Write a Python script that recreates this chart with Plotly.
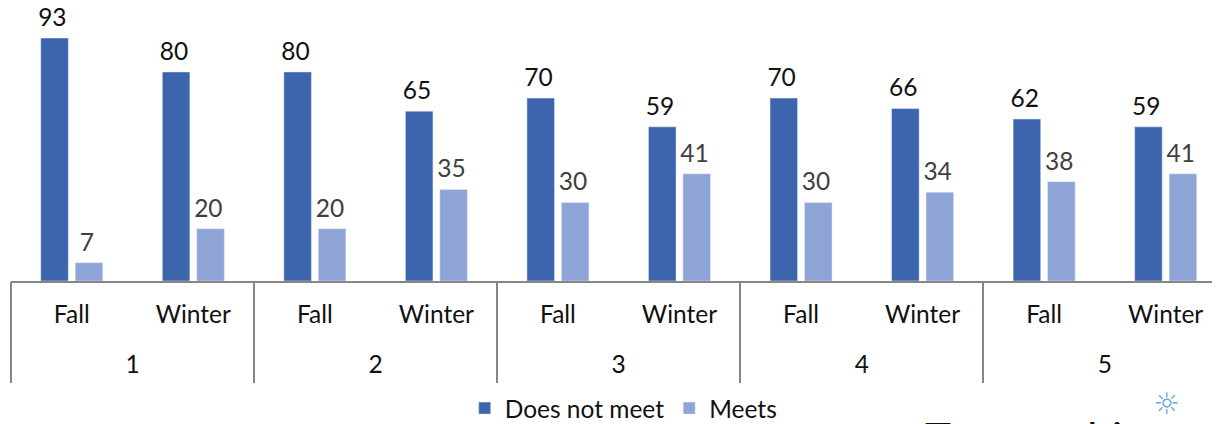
import plotly.graph_objects as go

group_names = ["1", "2", "3", "4", "5"]
group_positions = [0.5, 2.5, 4.5, 6.5, 8.5]
divider_positions = [-0.5, 1.5, 3.5, 5.5, 7.5, 9.5]
bar_positions = [0, 1, 2, 3, 4, 5, 6, 7, 8, 9]
terms = ["Fall", "Winter"] * 5
does_not_meet = [93, 80, 80, 65, 70, 59, 70, 66, 62, 59]
meets = [7, 20, 20, 35, 30, 41, 30, 34, 38, 41]
cut_off_text = "Try out this"
bulb = "\u263c"

FONT = "Lato"
SIZE = 24.5
X_RANGE = [-0.5, 9.447]
LABEL = "%{y}<sub>\u00a0</sub>"

fig = go.Figure()
fig.add_bar(name="Does not meet", x=bar_positions, y=does_not_meet,
            marker=dict(color="#3d65ad"), texttemplate=LABEL, textposition="outside", constraintext="none",
            textfont=dict(color="#111111", size=SIZE, family=FONT), cliponaxis=False)
fig.add_bar(name="Meets", x=bar_positions, y=meets,
            marker=dict(color="#8fa4d6"), texttemplate=LABEL, textposition="outside", constraintext="none",
            textfont=dict(color="#404040", size=SIZE, family=FONT), cliponaxis=False)
# Invisible carriers, so that the group axis and the divider axis are drawn.
fig.add_scatter(x=group_positions, y=[None] * 5, xaxis="x2", showlegend=False, hoverinfo="skip", mode="lines")
fig.add_scatter(x=divider_positions, y=[None] * 6, xaxis="x3", showlegend=False, hoverinfo="skip", mode="lines")
fig.update_layout(
    width=1212, height=416, autosize=False, barmode="group", bargap=0.433, bargroupgap=0.2,
    paper_bgcolor="white", plot_bgcolor="white",
    margin=dict(l=2.5, r=0, t=30, b=143),
    font=dict(family=FONT, size=SIZE, color="#111111"),
    legend=dict(orientation="h", xref="container", yref="container",
                x=0.508, xanchor="center", y=0.038, yanchor="middle",
                font=dict(size=SIZE, family=FONT), traceorder="normal"),
    xaxis=dict(range=X_RANGE, tickmode="array", tickvals=bar_positions, ticktext=terms,
               showline=True, linecolor="#868686", linewidth=2, showgrid=False, zeroline=False,
               ticks="outside", ticklen=11, tickcolor="rgba(0,0,0,0)", tickangle=0,
               tickfont=dict(size=SIZE, family=FONT, color="#111111")),
    xaxis2=dict(range=X_RANGE, overlaying="x", anchor="y", side="bottom", tickmode="array",
                tickvals=group_positions, ticktext=group_names, showgrid=False, zeroline=False,
                ticks="outside", ticklen=62, tickcolor="rgba(0,0,0,0)", tickangle=0,
                tickfont=dict(size=SIZE, family=FONT, color="#111111")),
    xaxis3=dict(range=X_RANGE, overlaying="x", anchor="y", side="bottom", tickmode="array",
                tickvals=divider_positions, showticklabels=False, showgrid=False, zeroline=False,
                ticks="outside", ticklen=101, tickwidth=2, tickcolor="#868686"),
    yaxis=dict(range=[0, 93], visible=False, showgrid=False, zeroline=False),
    annotations=[
        dict(text=cut_off_text, xref="paper", yref="paper", x=0.754, y=-0.53, xanchor="left",
             yanchor="top", showarrow=False, font=dict(size=44, family=FONT, color="#111111")),
        dict(text=bulb, xref="paper", yref="paper", x=0.956, y=-0.505, xanchor="center",
             yanchor="middle", showarrow=False, font=dict(size=30, family="DejaVu Sans", color="#6fa8dc")),
    ],
)
fig.write_html("out.html")
